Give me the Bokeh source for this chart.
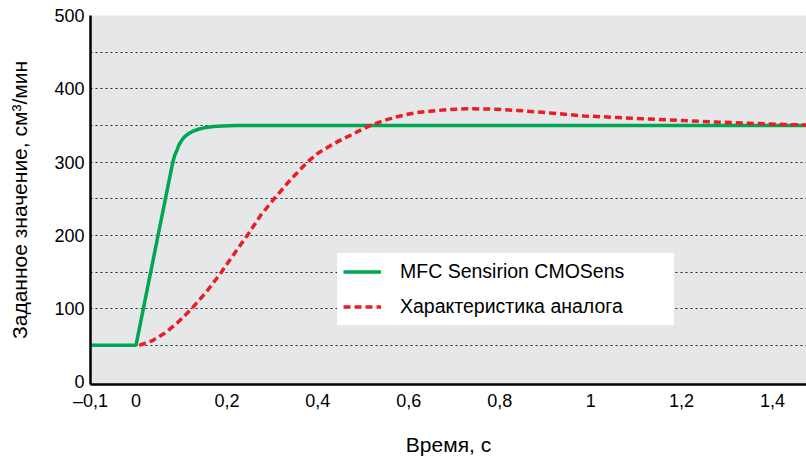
from bokeh.plotting import figure
from bokeh.models import FixedTicker, Legend, LegendItem, Range1d
from bokeh.embed import file_html
from bokeh.resources import INLINE

# ---- data ----
t_mfc = [-0.1, 0.0, 0.081, 0.085, 0.090, 0.095, 0.100, 0.106, 0.115, 0.125,
         0.137, 0.150, 0.170, 0.190, 0.220, 0.260, 0.400, 0.800, 1.200, 1.475]
v_mfc = [50, 50, 300, 309, 316, 324, 329, 334, 338.5, 342,
         344.8, 346.7, 348.4, 349.3, 349.8, 350, 350, 350, 350, 350]

t_analog = [0.007, 0.035, 0.062, 0.090, 0.121, 0.155, 0.187, 0.215, 0.245, 0.275,
            0.304, 0.340, 0.377, 0.400, 0.429, 0.450, 0.473, 0.495, 0.516, 0.545,
            0.571, 0.600, 0.619, 0.648, 0.690, 0.729, 0.780, 0.839, 0.910, 0.985,
            1.060, 1.132, 1.205, 1.278, 1.350, 1.425, 1.475]
v_analog = [50, 56, 66, 80, 99, 123, 149, 174, 200, 228,
            250, 276, 300, 312, 323, 330, 337, 344, 350, 356.5,
            361.5, 365.5, 367.5, 369.5, 371.8, 372.8, 372.3, 370.5, 367, 363,
            360.8, 358.7, 356.6, 354.6, 353, 351.3, 350.5]

x_ticks = [-0.1, 0, 0.2, 0.4, 0.6, 0.8, 1.0, 1.2, 1.4]
x_tick_labels = ["\u20130,1", "0", "0,2", "0,4", "0,6", "0,8", "1", "1,2", "1,4"]
y_ticks = [0, 100, 200, 300, 400, 500]
y_grid = [50, 100, 150, 200, 250, 300, 350, 400, 450]

series_names = ["MFC Sensirion CMOSens",
                "\u0425\u0430\u0440\u0430\u043a\u0442\u0435\u0440\u0438\u0441\u0442\u0438\u043a\u0430 \u0430\u043d\u0430\u043b\u043e\u0433\u0430"]
x_label = "\u0412\u0440\u0435\u043c\u044f, \u0441"
y_label = ("\u0417\u0430\u0434\u0430\u043d\u043d\u043e\u0435 \u0437\u043d\u0430\u0447\u0435\u043d\u0438\u0435, "
           "\u0441\u043c\u00b3/\u043c\u0438\u043d")

FONT = "Liberation Sans"

p = figure(width=806, height=459, output_backend="svg", toolbar_location=None,
           x_range=Range1d(-0.1, 1.4747), y_range=Range1d(-3.5, 500),
           min_border_left=90, min_border_right=0, min_border_top=15, min_border_bottom=75)

p.background_fill_color = "#E6E7E8"
p.border_fill_color = "white"
p.outline_line_color = None

for ax in (p.xaxis[0], p.yaxis[0]):
    ax.axis_line_color = "black"
    ax.axis_line_width = 2.5
    ax.major_tick_line_color = None
    ax.minor_tick_line_color = None
    ax.major_tick_out = 0
    ax.major_tick_in = 0
    ax.major_label_text_font = FONT
    ax.major_label_text_font_size = "18px"
    ax.major_label_text_color = "black"
    ax.axis_label_text_font = FONT
    ax.axis_label_text_font_style = "normal"
    ax.axis_label_text_color = "black"
    ax.axis_label_text_font_size = "21px"

p.xaxis.ticker = FixedTicker(ticks=x_ticks)
p.xaxis.major_label_overrides = {t: l for t, l in zip(x_ticks, x_tick_labels)}
p.xaxis.major_label_standoff = 6
p.xaxis.axis_label = x_label
p.xaxis.axis_label_standoff = 19

p.yaxis.ticker = FixedTicker(ticks=y_ticks)
p.yaxis.major_label_standoff = 6
p.yaxis.axis_label = y_label
p.yaxis.axis_label_standoff = 20

p.xgrid.grid_line_color = None
p.ygrid.ticker = FixedTicker(ticks=y_grid)
p.ygrid.grid_line_color = "#222222"
p.ygrid.grid_line_width = 1
p.ygrid.grid_line_dash = "2 3"

r_mfc = p.line(t_mfc, v_mfc, line_color="#00A651", line_width=3.5)
r_an = p.line(t_analog, v_analog, line_color="#ED1C24", line_width=3.5, line_dash="7 4")

legend = Legend(items=[LegendItem(label=series_names[0], renderers=[r_mfc]),
                       LegendItem(label=series_names[1], renderers=[r_an])],
                location=(247, 59))
legend.background_fill_color = "white"
legend.background_fill_alpha = 1
legend.border_line_color = "white"
legend.border_line_width = 6
legend.border_line_join = "miter"
legend.padding = 0
legend.margin = 0
legend.spacing = 10
legend.glyph_width = 38
legend.glyph_height = 25
legend.label_height = 25
legend.label_standoff = 19
legend.label_width = 268
legend.label_text_font = FONT
legend.label_text_font_size = "19.5px"
legend.label_text_color = "black"
p.add_layout(legend, "center")

open("out.html", "w").write(file_html(p, INLINE))
